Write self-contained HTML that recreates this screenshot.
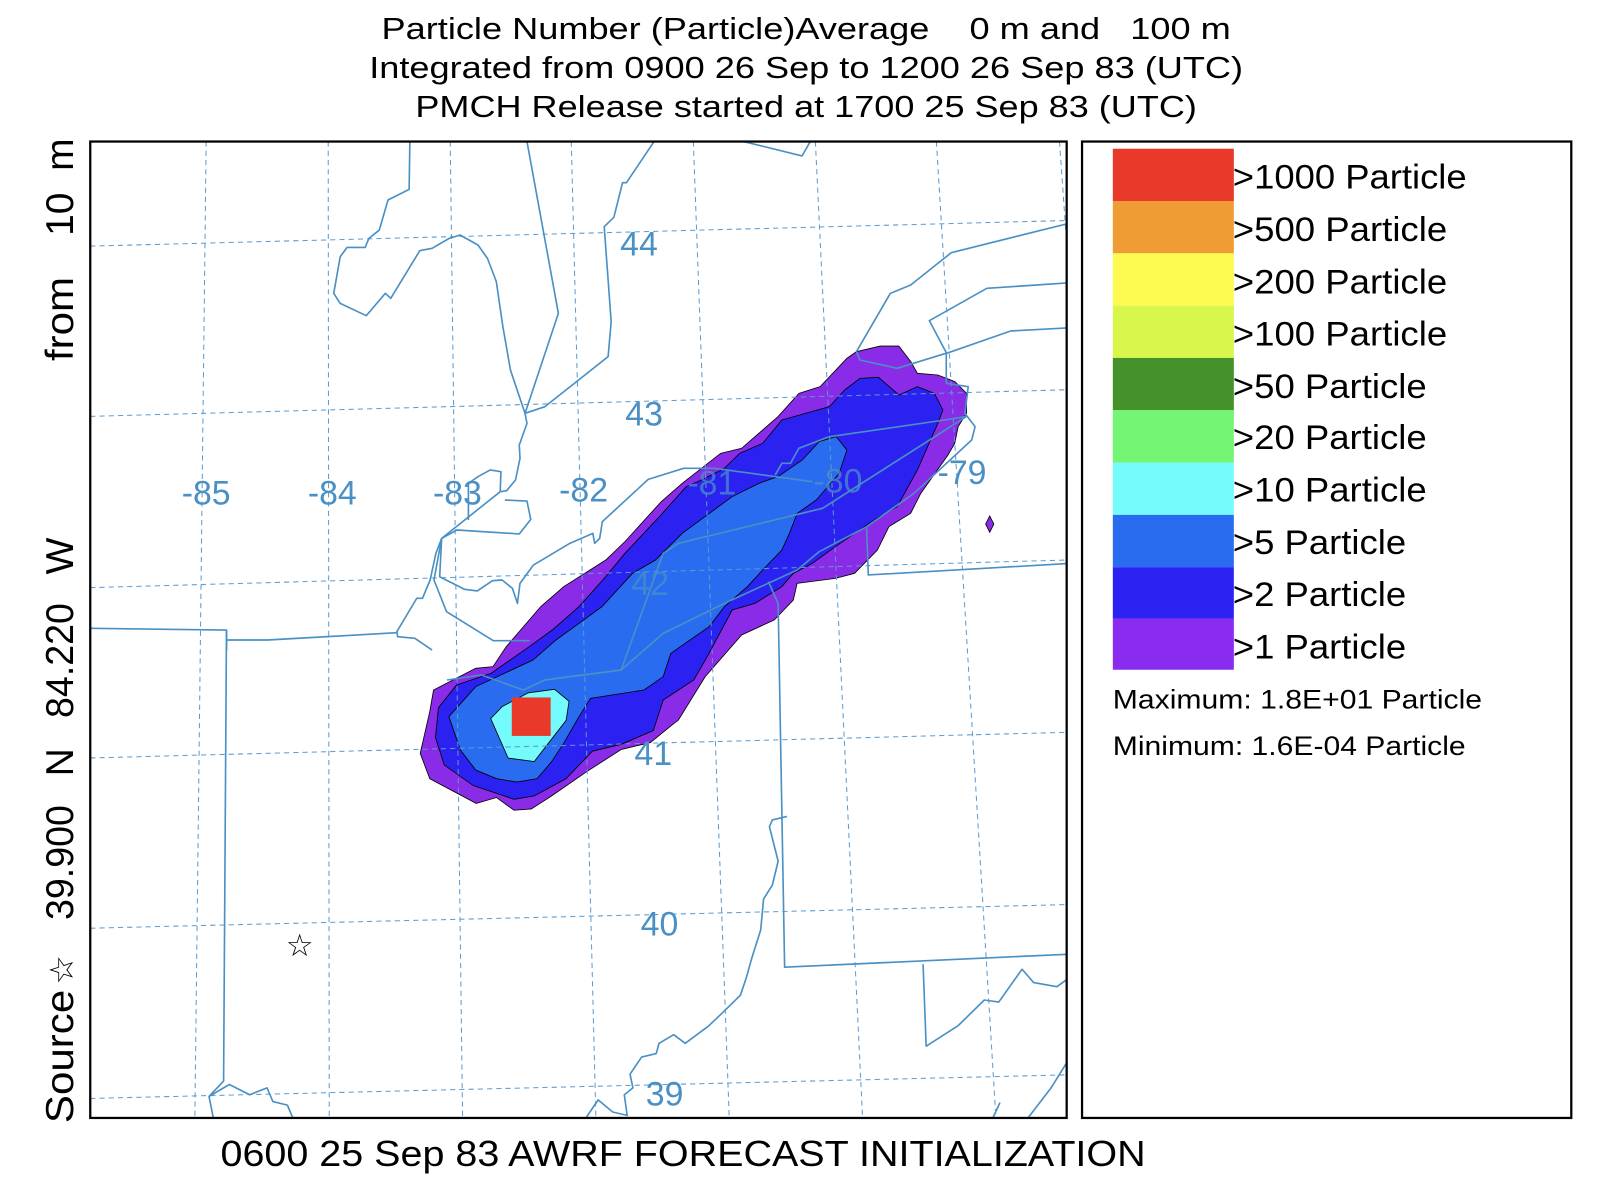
<!DOCTYPE html>
<html><head><meta charset="utf-8"><style>
html,body{margin:0;padding:0;background:#fff;}
svg{display:block;}
text{font-family:"Liberation Sans",sans-serif;}
</style></head><body>
<svg width="1608" height="1186" viewBox="0 0 1567.8 1156.35" xmlns="http://www.w3.org/2000/svg">
<rect width="1567.8" height="1156.35" fill="#fff"/>
<g font-size="30" fill="#000">
<text x="372" y="38" textLength="828" lengthAdjust="spacingAndGlyphs" xml:space="preserve">Particle Number (Particle)Average    0 m and   100 m</text>
<text x="360" y="76" textLength="852" lengthAdjust="spacingAndGlyphs">Integrated from 0900 26 Sep to 1200 26 Sep 83 (UTC)</text>
<text x="405" y="114" textLength="762" lengthAdjust="spacingAndGlyphs">PMCH Release started at 1700 25 Sep 83 (UTC)</text>
</g>
<text x="215" y="1137" font-size="35" textLength="902" lengthAdjust="spacingAndGlyphs">0600 25 Sep 83 AWRF FORECAST INITIALIZATION</text>
<g transform="translate(71,1095) rotate(-90)" font-size="38">
<text x="0" y="0" textLength="130" lengthAdjust="spacingAndGlyphs">Source</text>
<text x="135" y="0" font-size="32">☆</text>
<text x="198" y="0" textLength="112" lengthAdjust="spacingAndGlyphs">39.900</text>
<text x="338" y="0">N</text>
<text x="395" y="0" textLength="112" lengthAdjust="spacingAndGlyphs">84.220</text>
<text x="535" y="0">W</text>
<text x="743" y="0" textLength="82" lengthAdjust="spacingAndGlyphs">from</text>
<text x="865" y="0" textLength="95" lengthAdjust="spacingAndGlyphs" xml:space="preserve">10  m</text>
</g>
<defs><clipPath id="c"><rect x="88" y="138" width="952" height="952"/></clipPath></defs>
<g clip-path="url(#c)">
<g fill-rule="evenodd" stroke="#000" stroke-width="0.8">
<polygon fill="#8a2be8" points="835,342.9 858.2,337.4 876.4,337.4 888,352.6 894.5,364 914.4,365.6 931,372.1 942.4,383.5 942.4,403 934.2,416 930.9,432.3 924.3,443.6 897.8,481 887.9,500.5 866.7,513.5 855.5,536.25 833.2,559 814.5,563.9 777.2,568.75 773.5,585 754.8,604.5 723.1,619.1 687.6,659.75 661.5,702 656.8,705.6 634.1,724 605.8,730.7 571.8,752.5 537.9,776 518,788.7 501.1,790 484.1,777.6 464.3,783.3 419,759.2 409.7,734.5 419,693.9 422.7,672.75 463.8,651.6 480.6,650 493.6,630.5 527.2,591.5 549.6,572 590.6,546 609.3,528.1 644.7,489.1 665.2,471.25 702.6,442 723.1,437.1 758.5,406.25 779,383.5 799.6,377 825.7,349.4"/>
<polygon fill="#2b22f2" points="823.5,380.25 838.4,368.9 856.5,367.9 876.4,385.1 894.5,377 911,383.5 919.3,399.75 914.4,412.75 904.4,435.5 894.5,458.25 874.7,494 855.5,505 833.2,520 814.5,533 792.1,549.25 773.5,559 762.3,572 736.1,588.25 713.8,594.75 691.4,637 676.4,663 646.6,682.5 637,712.3 605.8,725.7 577.5,732.4 552,759.2 520.9,776 501.1,779.3 461.4,765.9 433.1,745.8 424.6,719 427.5,690 445.1,667.9 478.7,656.5 516,630.5 538.4,614.25 564.5,591.5 590.6,562.25 609.3,539.5 642.9,503.75 669,474.5 683.9,468 706.3,456.6 721.2,442 743.6,432.25 762.3,409.5 808.7,396.5"/>
<polygon fill="#2a6cf0" points="782.2,448.5 798.7,430.6 815.3,425.75 825.7,438.75 818.2,461.5 795.9,487.5 777.2,500.5 769.7,520 762.3,536.25 743.6,555.75 728.7,572 706.3,591.5 691.4,611 654,637 646.6,659.75 627.9,672.75 575.7,680.9 564.5,698.75 549.6,724.75 537.9,742.5 523.7,759.2 503.9,762.5 484.1,759.2 463.8,750.75 448.9,731.25 437.7,698.75 463.8,669.5 519.7,643.5 542.1,624 586.9,591.5 616.7,559 639.1,546 665.2,520 713.8,484.25 739.9,471.25 758.5,464.75"/>
<polygon fill="#74fbfb" points="478.4,700.6 495.4,739.1 520.9,742.5 552,702.3 554.8,683.8 540.7,672.1 515.2,675.5 489.7,688.9"/>
<rect x="499" y="680" width="37.9" height="37.5" fill="#e8392a" stroke="none"/>
<polygon fill="#8a2be8" points="965,503 969,511 965,519 961,511"/>
</g>
<g stroke="#5a9bd0" stroke-width="1" stroke-dasharray="5,4" fill="none">
<line x1="88" y1="240" x2="1040" y2="215"/>
<line x1="88" y1="406" x2="1040" y2="380"/>
<line x1="88" y1="573" x2="1040" y2="546"/>
<line x1="88" y1="739" x2="1040" y2="714"/>
<line x1="88" y1="905" x2="1040" y2="882"/>
<line x1="88" y1="1071" x2="1040" y2="1048"/>
<line x1="201" y1="138" x2="190" y2="1090"/>
<line x1="320" y1="138" x2="321" y2="1090"/>
<line x1="439" y1="138" x2="451" y2="1090"/>
<line x1="557" y1="138" x2="581" y2="1090"/>
<line x1="676" y1="138" x2="711" y2="1090"/>
<line x1="795" y1="138" x2="841" y2="1090"/>
<line x1="913" y1="138" x2="971" y2="1090"/>
<line x1="1033" y1="138" x2="1100" y2="1090"/>
</g>
<g stroke="#4a90c4" stroke-width="1.6" fill="none" stroke-linejoin="round">
<polyline points="399.6,138 398.9,184.6 378.3,195 369.8,224.3 359.7,232.4 356,241.2 338.4,241.2 331.7,250.3 325.4,286 331.7,295.8 357.1,307.8 375.7,286 381,290.9 409.3,244.4 421.3,242.1 438,232.4 448.5,229.1 466,238.9 475.3,251.9 483.9,274.6 490.3,318.5 497.7,360.8 511.9,403 513.8,412.8 506.3,433.9 507,446.9 502.6,468 494,478.4 487.7,479.4 488.4,459.9 478,458.2 466,464.8 456.7,471.3 456.7,507"/>
<polyline points="487.7,479.4 430.6,524.9 425,539.5 419.4,565.5 411.9,583.4 406.3,583.4 386.9,615.9 387.7,620.8 404.5,622.4 421.3,633.8"/>
<polyline points="492.2,487.5 513.8,488.5 517.5,506.4 506.3,520.6 445.5,516.75 430.6,524.9"/>
<polyline points="430.6,524.9 428.7,562.3 453,574.6 465.3,576.2 480.2,566.15 489.5,565.5 499.6,573.6 504.5,588.3 507,568.75 520.1,550.9 555.6,529.75 578,520 579.8,529.75 584.7,524.9 587.3,508.6 632,467.4 666.6,456.6 696.4,456.6 792.1,469.6"/>
<polyline points="430.6,524.9 423.1,565.5 435.4,596.4 481,624.7 516.4,624.7"/>
<polyline points="513.8,138 544.4,305.5 511.9,403"/>
<polyline points="637.7,138 610.8,178.1 607,178.1 598.5,211.9 589.1,221 595.9,313.6 592.9,347.75 531.3,396.5 511.9,403"/>
<polyline points="87.3,612.6 220.9,614.3 220.9,633.75"/>
<polyline points="220.9,624 260.8,624 386.9,616.9"/>
<polyline points="220.9,614.3 220.8,615.2 218,1054 203.8,1069 208,1090"/>
<polyline points="203.8,1069 223.6,1057.4 243.4,1067.4 260.4,1060.7 266.1,1074 280.2,1077.5 288.7,1097.5"/>
<polyline points="835,342.9 868.1,286 887.9,277.9 927.5,246.35 1044.8,217.1"/>
<polyline points="922.6,373.75 922.6,343.85 906.1,312.65 962.2,281.1 1044.8,275.6"/>
<polyline points="835,342.9 838.4,351 874.7,359.1 927.5,342.9 985.4,322.7 1044.8,319.5"/>
<polyline points="922.6,373.75 944,377 940.8,403 950.7,416 947.4,429 891.2,481 845,513.5 798.7,537.9 777.2,555.75 706.3,588.25 646.6,617.5 605.6,653.25 531,663 510.4,672.75 469.4,658.1 435.8,663"/>
<polyline points="755.8,463.1 762.4,451.75 770.7,451.75 778.9,437.1 808.7,425.75 921,409.5 942.4,406 802,495.6 661.5,529.75 646.6,539.5 605.6,653.25"/>
<polyline points="845,515 846.6,560.6 1044.8,549.25"/>
<polyline points="749.2,567.1 758.7,588.4 765,943 1050,930"/>
<polyline points="767.2,796 753,799.4 750.2,806.1 758.7,839.6 753,863 744.5,876.5 741.7,906.6 733.2,933.4 727.6,953.5 721.9,970.3 704.9,987 690.8,1000.4 668.1,1017.2 656.8,1008.8 642.6,1017.2 639.8,1027.2 625.6,1030.6 614.3,1047.3 617.1,1060.7 608.7,1067.4 611.5,1087.5 597.3,1084.2 583.2,1072.4 566.2,1097.5"/>
<polyline points="900,940 903,1020 934.2,1000 959.7,975 973.8,977 996.5,945 1007.8,958 1030.5,962 1050,948"/>
<polyline points="1050,1020 1024.8,1060.7 996.5,1097.5"/>
<polyline points="975,1075 968,1090"/>
<polyline points="725,138 782,152 790,138"/>
</g>
<g fill="#4a90c4" font-size="33" text-anchor="middle">
<text x="201" y="492">-85</text><text x="324" y="492">-84</text><text x="446" y="492">-83</text><text x="569" y="489">-82</text>
<text x="694" y="482" fill-opacity="0.75">-81</text><text x="817" y="480" fill-opacity="0.75">-80</text><text x="938" y="472">-79</text>
<text x="623" y="249">44</text><text x="628" y="415">43</text><text x="634" y="580" fill-opacity="0.7">42</text><text x="637" y="746">41</text><text x="643" y="912">40</text><text x="648" y="1078">39</text>
</g>
<text x="292" y="932" font-size="30" text-anchor="middle" fill="#000">☆</text>
</g>
<rect x="88" y="138" width="952" height="952" fill="none" stroke="#000" stroke-width="2.2"/>
<rect x="1055" y="138" width="477" height="952" fill="none" stroke="#000" stroke-width="2.2"/>
<g>
<rect x="1085" y="145" width="118" height="51" fill="#e8392a"/>
<rect x="1085" y="196" width="118" height="51" fill="#f09c35"/>
<rect x="1085" y="247" width="118" height="51" fill="#fdfa50"/>
<rect x="1085" y="298" width="118" height="51" fill="#d8f64b"/>
<rect x="1085" y="349" width="118" height="51" fill="#45912a"/>
<rect x="1085" y="400" width="118" height="51" fill="#74f574"/>
<rect x="1085" y="451" width="118" height="51" fill="#74fbfb"/>
<rect x="1085" y="502" width="118" height="51" fill="#2a6cf0"/>
<rect x="1085" y="553" width="118" height="50" fill="#2b22f2"/>
<rect x="1085" y="603" width="118" height="50" fill="#8a2bf0"/>
</g>
<g font-size="33" fill="#000">
<text x="1202" y="184" textLength="228" lengthAdjust="spacingAndGlyphs">&gt;1000 Particle</text>
<text x="1202" y="235" textLength="209" lengthAdjust="spacingAndGlyphs">&gt;500 Particle</text>
<text x="1202" y="286" textLength="209" lengthAdjust="spacingAndGlyphs">&gt;200 Particle</text>
<text x="1202" y="337" textLength="209" lengthAdjust="spacingAndGlyphs">&gt;100 Particle</text>
<text x="1202" y="388" textLength="189" lengthAdjust="spacingAndGlyphs">&gt;50 Particle</text>
<text x="1202" y="438" textLength="189" lengthAdjust="spacingAndGlyphs">&gt;20 Particle</text>
<text x="1202" y="489" textLength="189" lengthAdjust="spacingAndGlyphs">&gt;10 Particle</text>
<text x="1202" y="540" textLength="169" lengthAdjust="spacingAndGlyphs">&gt;5 Particle</text>
<text x="1202" y="591" textLength="169" lengthAdjust="spacingAndGlyphs">&gt;2 Particle</text>
<text x="1202" y="642" textLength="169" lengthAdjust="spacingAndGlyphs">&gt;1 Particle</text>
</g>
<g font-size="26" fill="#000">
<text x="1085" y="691" textLength="360" lengthAdjust="spacingAndGlyphs">Maximum: 1.8E+01 Particle</text>
<text x="1085" y="736" textLength="344" lengthAdjust="spacingAndGlyphs">Minimum: 1.6E-04 Particle</text>
</g>
</svg>
</body></html>
